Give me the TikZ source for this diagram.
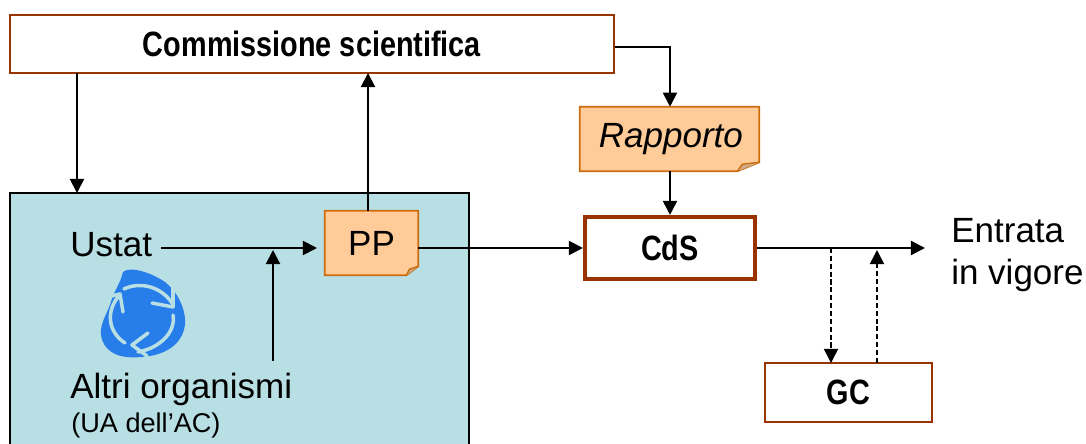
\documentclass[tikz,border=0pt]{standalone}
\usepackage{fontspec}
\usepackage{xcolor}
\setmainfont{Liberation Sans}
\newfontfamily\narrowfont[FakeStretch=0.82]{Liberation Sans}
\usetikzlibrary{arrows.meta,backgrounds}

\definecolor{tealfill}{HTML}{B8DFE3}
\definecolor{notefill}{HTML}{FFCC99}
\definecolor{noteline}{HTML}{CC6C0C}
\definecolor{boxline}{HTML}{993300}
\definecolor{iconblue}{HTML}{277DE9}

\tikzset{
    boxtext/.style={font=\narrowfont\bfseries\fontsize{25}{29}\selectfont},
    plaintext/.style={font=\fontsize{24.9}{30}\selectfont, inner sep=0pt},
    whitebox/.style={draw=boxline, fill=white, line width=1pt, inner sep=0pt},
    conn/.style={line width=1.4pt},
    dashconn/.style={line width=1.1pt, dash pattern=on 3.6pt off 2pt}
}

\begin{document}
\begin{tikzpicture}[x=0.025cm, y=-0.025cm, >={Triangle[length=10pt,width=10pt]}]
        \clip (0, 0) rectangle (1086, 444);
%
        \begin{scope}[on background layer]
            \draw [black, fill=tealfill, line width=1pt] (10, 193) rectangle (469, 460);
        \end{scope}

        \node (commissione) [whitebox, boxtext, minimum width=15.1cm, minimum height=1.45cm] at (312, 44) {Commissione scientifica};
        \node (pp) [plaintext, minimum width=2.325cm, minimum height=1.6cm] at (371.5, 243) {PP};
        \node (rapporto) [plaintext, minimum width=4.475cm, minimum height=1.6cm] at (669.5, 139) {\hspace*{2pt}\itshape Rapporto};
        \node (cds) [whitebox, boxtext, line width=2.9pt, minimum width=4.25cm, minimum height=1.55cm] at (670, 248) {CdS};
        \node (gc) [whitebox, boxtext, minimum width=4.175cm, minimum height=1.475cm] at (848.5, 392.5) {GC};

        \node (ustat) [plaintext, anchor=base west] at (70, 257) {Ustat};
        \node (altri) [plaintext, anchor=base west] at (70, 399) {Altri organismi};
        \node (ua) [plaintext, anchor=base west, font=\fontsize{19.3}{23}\selectfont] at (71, 433) {(UA dell’AC)};
        \node (entrata) [plaintext, anchor=west, align=left] at (951, 255) {Entrata\\in vigore};

%       fogli con l'angolo piegato
        \begin{scope}[on background layer]
            \foreach \n/\dx/\cx/\cy in {pp/12/3/6, rapporto/22/5/7}
            {
                \draw [noteline, fill=notefill, line width=1.2pt] (\n.north west) -- (\n.north east) -- ([yshift=0.225cm]\n.south east) -- ([xshift=-\dx*0.025cm]\n.south east) -- (\n.south west) -- cycle;
                \draw [noteline, fill=notefill!60!gray, line width=1pt] ([xshift=-\dx*0.025cm]\n.south east) -- ++(\cx, -\cy) -- ([yshift=0.225cm]\n.south east);
            }
        \end{scope}

        \coordinate (innesto) at (273, 250);
        \coordinate (altrito) at (273, 361);
        \coordinate (ustatout) at (161, 248);
        \coordinate (uscita) at (925, 248);
        \coordinate (commdown) at (77, 73);
        \coordinate (tealtop) at (77, 193);
        \coordinate (gcdown) at (831, 363);
        \coordinate (cdsdown) at (831, 248);
        \coordinate (gcup) at (877, 363);
        \coordinate (cdsup) at (877, 250);

        \draw [conn, ->] (commdown) -- (tealtop);
        \draw [conn, ->] (pp.north -| 368, 0) -- (368, 73);
        \draw [conn, ->] (commissione.east |- 0, 47) -| (cds.north |- rapporto.north);
        \draw [conn, ->] (cds.north |- rapporto.south) -- (cds.north);
        \draw [conn, ->, shorten >=5.5pt] (ustatout) -- (pp.west |- ustatout);
        \draw [conn, ->] (altrito) -- (innesto);
        \draw [conn, ->] (pp.east |- cds.west) -- (cds.west);
        \draw [conn, ->] (cds.east) -- (uscita);
        \draw [dashconn, ->] (cdsdown) -- (gcdown);
        \draw [dashconn, ->] (gcup) -- (cdsup);

%       icona
        \fill [iconblue] (123, 272) .. controls (130, 266) and (150, 272) .. (165, 282)
            .. controls (182, 296) and (186, 315) .. (185, 325)
            .. controls (183, 340) and (172, 352) .. (150, 356)
            .. controls (130, 359) and (112, 358) .. (104, 344)
            .. controls (96, 330) and (105, 318) .. (110, 305)
            .. controls (114, 290) and (120, 285) .. (123, 272) -- cycle;
        \begin{scope}[tealfill, line width=2.5pt, line cap=round, line join=round]
            \draw (124, 289) .. controls (138, 282) and (160, 285) .. (172, 303);
            \draw (173, 288) -- (173, 307) -- (152, 303);
            \draw (173, 315) .. controls (176, 332) and (160, 348) .. (138, 352);
            \draw (148, 333) -- (132, 345) -- (147, 356);
            \draw (125, 343) .. controls (108, 332) and (106, 312) .. (118, 297);
            \draw (103, 298) -- (120, 294) -- (123, 312);
        \end{scope}
\end{tikzpicture}
\end{document}
